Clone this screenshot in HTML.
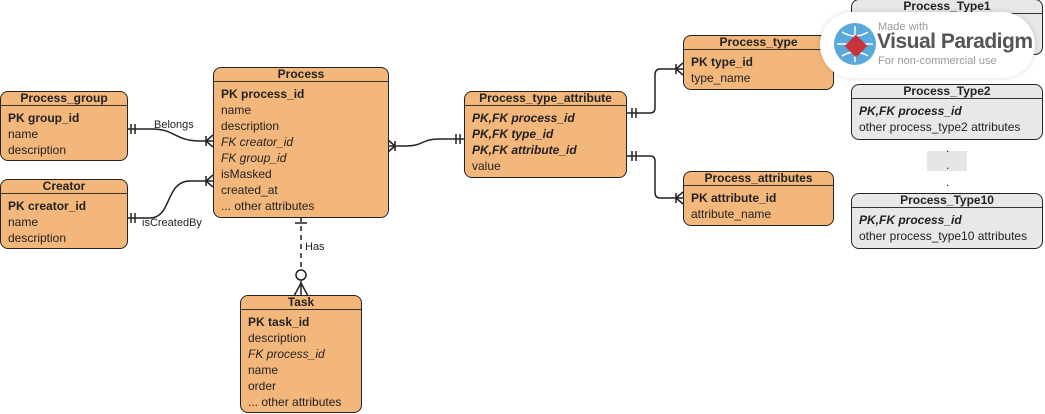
<!DOCTYPE html>
<html><head><style>
body{margin:0;width:1045px;height:414px;background:#fff;position:relative;overflow:hidden;font-family:"Liberation Sans",Arial,sans-serif;}
.e{position:absolute;background:#F4B77B;border:1.5px solid #222;border-radius:8px;box-sizing:border-box;font-size:12px;color:#222;}
.g{background:#E8E8E8;}
.h{height:13px;line-height:13px;text-align:center;font-weight:bold;border-bottom:1.5px solid #333;font-size:12px;}
.b{padding:4px 0 0 7px;}
.b div{height:16px;line-height:16px;white-space:nowrap;}
.pk{font-weight:bold;}
.fk{font-style:italic;}
.pf{font-style:italic;font-weight:bold;}
svg{position:absolute;left:0;top:0;}
.lbl{position:absolute;font-size:11px;color:#222;}
</style></head><body>
<svg width="1045" height="414">
<g fill="none" stroke="#222" stroke-width="1.5">
<!-- group -> process -->
<path d="M127 129 H152 C175 129 175 141 200 141 H213"/>
<path d="M131 124 v10 M135 124 v10"/>
<path d="M206 141 L213 135 M206 141 L213 147 M206 136 v10"/>
<!-- creator -> process -->
<path d="M127 218 H150 C172 218 165 181 190 181 H213"/>
<path d="M131 213 v10 M135 213 v10"/>
<path d="M206 181 L213 175 M206 181 L213 187 M206 176 v10"/>
<!-- process -> PTA -->
<path d="M388 146 H405 C425 146 420 139 440 139 H464"/>
<path d="M395 146 L388 140 M395 146 L388 152 M395 141 v10"/>
<path d="M456 134 v10 M460 134 v10"/>
<!-- PTA -> type -->
<path d="M626 113 H650 Q655 113 655 108 V75 Q655 69 660 69 H683"/>
<path d="M632 108 v10 M636 108 v10"/>
<path d="M676 69 L683 63 M676 69 L683 75 M676 64 v10"/>
<!-- PTA -> attributes -->
<path d="M626 156 H650 Q655 156 655 161 V192 Q655 198 660 198 H683"/>
<path d="M632 151 v10 M636 151 v10"/>
<path d="M676 198 L683 192 M676 198 L683 204 M676 193 v10"/>
<!-- process -> task -->
<path d="M301 217 V268" stroke-dasharray="5,4"/>
<path d="M295 223 h12"/>
<circle cx="301" cy="275" r="5" fill="#fff"/>
<path d="M301 281 V295 M301 283 L294 296 M301 283 L308 296"/>
</g>
</svg>
<div class="lbl" style="left:154px;top:119px">Belongs</div>
<div class="lbl" style="left:142px;top:217px">isCreatedBy</div>
<div class="lbl" style="left:305px;top:241px">Has</div>

<div class="e" style="left:0;top:91px;width:128px;height:70px"><div class="h">Process_group</div><div class="b"><div class="pk">PK group_id</div><div>name</div><div>description</div></div></div>
<div class="e" style="left:0;top:179px;width:128px;height:70px"><div class="h">Creator</div><div class="b"><div class="pk">PK creator_id</div><div>name</div><div>description</div></div></div>
<div class="e" style="left:213px;top:67px;width:176px;height:151px"><div class="h">Process</div><div class="b"><div class="pk">PK process_id</div><div>name</div><div>description</div><div class="fk">FK creator_id</div><div class="fk">FK group_id</div><div>isMasked</div><div>created_at</div><div>... other attributes</div></div></div>
<div class="e" style="left:240px;top:295px;width:122px;height:118px"><div class="h">Task</div><div class="b"><div class="pk">PK task_id</div><div>description</div><div class="fk">FK process_id</div><div>name</div><div>order</div><div>... other attributes</div></div></div>
<div class="e" style="left:464px;top:91px;width:163px;height:87px"><div class="h">Process_type_attribute</div><div class="b"><div class="pf">PK,FK process_id</div><div class="pf">PK,FK type_id</div><div class="pf">PK,FK attribute_id</div><div>value</div></div></div>
<div class="e" style="left:683px;top:35px;width:151px;height:55px"><div class="h">Process_type</div><div class="b"><div class="pk">PK type_id</div><div>type_name</div></div></div>
<div class="e" style="left:683px;top:171px;width:151px;height:55px"><div class="h">Process_attributes</div><div class="b"><div class="pk">PK attribute_id</div><div>attribute_name</div></div></div>
<div class="e g" style="left:851px;top:-1px;width:192px;height:56px"><div class="h">Process_Type1</div></div>
<div class="e g" style="left:851px;top:84px;width:192px;height:56px"><div class="h">Process_Type2</div><div class="b"><div class="pf">PK,FK process_id</div><div>other process_type2 attributes</div></div></div>
<div class="e g" style="left:851px;top:193px;width:192px;height:56px"><div class="h">Process_Type10</div><div class="b"><div class="pf">PK,FK process_id</div><div>other process_type10 attributes</div></div></div>
<div style="position:absolute;left:927px;top:151px;width:40px;height:20px;background:#e6e6e6"></div>
<div style="position:absolute;left:946px;top:140px;font-size:12px;line-height:17px;color:#222">.<br>.<br>.</div>
<!-- watermark -->
<div style="position:absolute;left:820px;top:12px;width:215px;height:66px;background:#fff;border-radius:33px;box-shadow:0 0 6px rgba(0,0,0,0.15)"></div>
<svg width="1045" height="414"><circle cx="855" cy="44" r="21" fill="#5aa9dc"/><path d="M855 26 V62 M837 44 H873 M842 32 Q855 40 868 32 M842 56 Q855 48 868 56" stroke="#fff" stroke-width="1.5" fill="none"/><rect x="848" y="38" width="16" height="16" transform="rotate(45 856 46)" fill="#c8323a"/></svg>
<div style="position:absolute;left:878px;top:21px;font-size:11px;color:#999">Made with</div>
<div style="position:absolute;left:877px;top:30px;font-size:21px;font-weight:bold;color:#555;letter-spacing:-0.5px">Visual Paradigm</div>
<div style="position:absolute;left:878px;top:55px;font-size:11px;color:#999">For non-commercial use</div>
</body></html>
